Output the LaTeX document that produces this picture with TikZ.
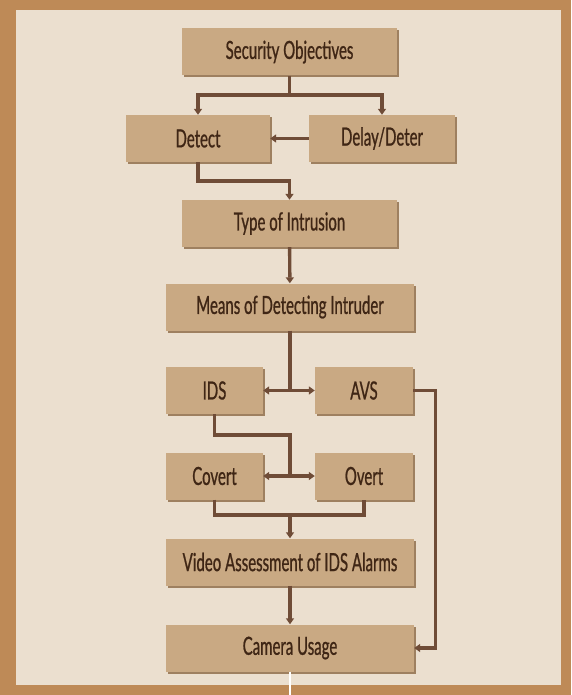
\documentclass[tikz,border=0pt]{standalone}
\usepackage{fontspec}
\setmainfont{Lato}[FakeStretch=0.6,FakeBold=0.8]
\usetikzlibrary{arrows.meta,shadows}

\definecolor{framecol}{HTML}{BE8A57}
\definecolor{paper}{HTML}{EBDFCF}
\definecolor{boxcol}{HTML}{C9A983}
\definecolor{shadecol}{HTML}{9E8060}
\definecolor{linecol}{HTML}{6F4C37}
\definecolor{textcol}{HTML}{3F2615}

\begin{document}
\begin{tikzpicture}[x=1pt,y=-1pt]
		\tikzset{block/.style = {shape=rectangle, fill=boxcol, text=textcol, inner sep=0pt,
				minimum height=47pt, font=\fontsize{25}{28}\selectfont,
				drop shadow={shadow xshift=1.5pt, shadow yshift=-2pt, fill=shadecol, opacity=1}},
			link/.style = {draw=linecol, line width=3.4pt},
			arr/.style = {link, -{Triangle[length=6pt,width=8pt]}}}

		% frame
		\fill[framecol] (0,0) rectangle (571,695);
		\fill[paper] (16,10) rectangle (561,685);
		\useasboundingbox (0,0) rectangle (571,695);

		\node[block, minimum width=215pt] (sec) at (289.5,52) {Security Objectives};
		\node[block, minimum width=144pt] (det) at (198,138.5) {Detect};
		\node[block, minimum width=146pt] (del) at (382,138.5) {Delay/Deter};
		\node[block, minimum width=215pt] (typ) at (289.5,223.5) {Type of Intrusion};
		\node[block, minimum width=248pt] (mea) at (290,307) {Means of Detecting Intruder};

		\node[block, minimum width=97pt] (ids) at (214.5,390.5) {IDS};
		\node[block, minimum width=98pt] (avs) at (364,390.5) {AVS};
		\node[block, minimum width=97pt] (cov) at (214.5,476) {Covert};
		\node[block, minimum width=98pt] (ove) at (364,476) {Overt};

		\node[block, minimum width=248pt] (vid) at (290,562) {Video Assessment of IDS Alarms};
		\node[block, minimum width=248pt] (cam) at (290,648) {Camera Usage};

		\coordinate (j1) at (289.5,95);
		\coordinate (j2) at (289.5,181);
		\coordinate (j3) at (290,390.5);
		\coordinate (j4) at (290,435);
		\coordinate (j5) at (290,476);
		\coordinate (j6) at (290,515);
		\coordinate (b) at (290,695);

		\draw[link] (sec) -- (j1);
		\draw[arr] (j1) -| (det.north);
		\draw[arr] (j1) -| (del.north);
		\draw[arr] (del) -- (det);
		\draw[arr] (det.south) |- (j2) -- (typ.north);
		\draw[arr] (typ) -- (mea);

		\draw[link] (mea) -- (j3);
		\draw[arr] (j3) -- (ids);
		\draw[arr] (j3) -- (avs);
		\draw[arr] (avs.east) -- ++(22,0) |- (cam.east);

		\draw[link] (ids.south) |- (j4) -- (j5);
		\draw[arr] (j5) -- (cov);
		\draw[arr] (j5) -- (ove);

		\draw[link] (cov.south) |- (j6) -| (ove.south);
		\draw[arr] (j6) -- (vid);
		\draw[arr] (vid) -- (cam);

		\draw[white, line width=2pt] (cam.south) -- (b);

\end{tikzpicture}
\end{document}
